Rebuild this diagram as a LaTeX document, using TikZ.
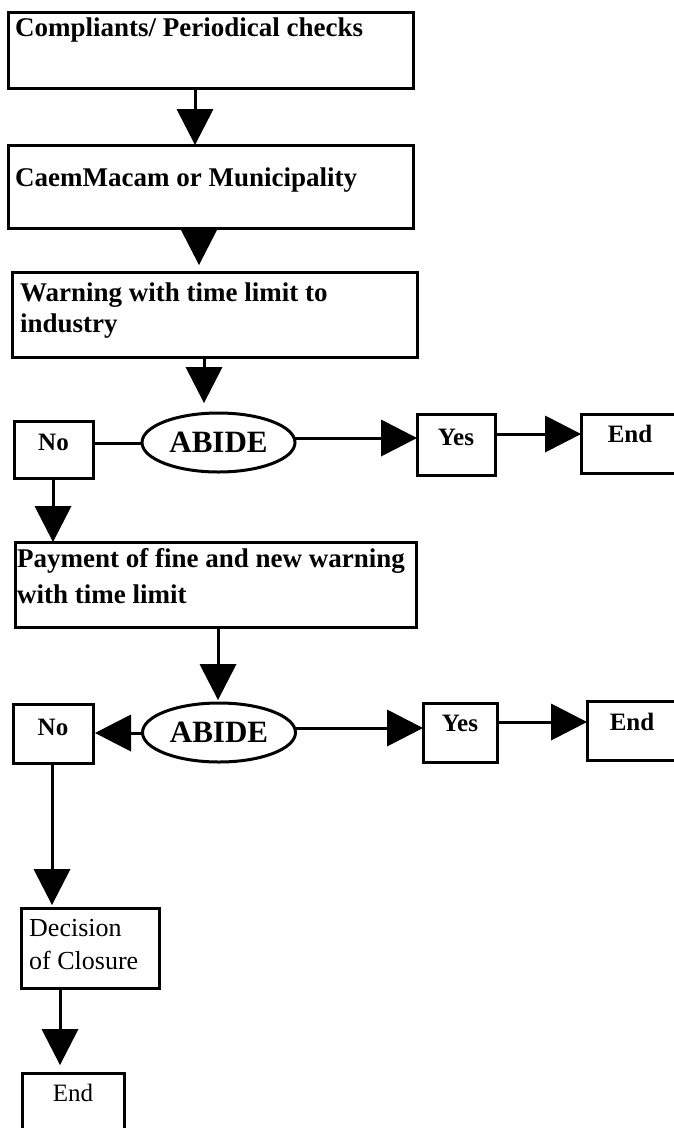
\documentclass[tikz,border=0pt]{standalone}
\usepackage{fontspec}
\setmainfont{Liberation Serif}
\usetikzlibrary{arrows.meta,shapes.geometric}
\begin{document}
\begin{tikzpicture}[x=1pt,y=-1pt,
  box/.style={draw, line width=3pt, rectangle, inner sep=0pt, outer sep=0pt, anchor=north west},
  tag/.style={box, font=\bfseries\fontsize{25}{30}\selectfont, text height=10pt, text depth=#1},
  oval/.style={draw, line width=3pt, ellipse, inner sep=0pt, outer sep=0pt,
    minimum width=153pt, minimum height=59pt, font=\bfseries\fontsize{31}{34}\selectfont},
  lbl/.style={inner sep=0pt, anchor=north west, align=left, font=\bfseries\fontsize{27}{31}\selectfont},
  flow/.style={line width=3pt, -{Triangle[length=36pt,width=37pt,line width=0pt]}},
  link/.style={line width=3pt}]
\useasboundingbox (0,0) rectangle (673,1128);

% main chain of boxes
\node[box, minimum width=405pt, minimum height=76pt] (b1) at (8,12) {};
\node[lbl] (t1) at (15,18) {Compliants/ Periodical checks};
\node[box, minimum width=405pt, minimum height=83pt] (b2) at (8,145) {};
\node[lbl] (t2) at (15,168) {CaemMacam or Municipality};
\node[box, minimum width=405pt, minimum height=85pt] (b3) at (12,272) {};
\node[lbl] (t3) at (20,283) {Warning with time limit to\\industry};

% first decision row
\node[tag=8.4pt, minimum width=79pt, minimum height=57pt] (no1) at (14,421) {No};
\node[oval] (ab1) at (218.5,442.5) {ABIDE};
\node[tag=8.4pt, minimum width=78pt, minimum height=61pt] (yes1) at (417,414) {Yes};
\node[tag=12.4pt, minimum width=98pt, minimum height=59pt] (end1) at (581,414) {End};

\node[box, minimum width=401pt, minimum height=85pt] (pay) at (15,542) {};
\node[lbl, font=\bfseries\fontsize{27}{36}\selectfont] (t4) at (17,548) {Payment of fine and new warning\\with time limit};

% second decision row
\node[tag=6.4pt, minimum width=80pt, minimum height=59pt] (no2) at (13,704) {No};
\node[oval] (ab2) at (219,732.5) {ABIDE};
\node[tag=12.4pt, minimum width=74pt, minimum height=59pt] (yes2) at (423,703) {Yes};
\node[tag=10.4pt, minimum width=90pt, minimum height=59pt] (end2) at (587,701) {End};

% closure branch
\node[box, minimum width=138pt, minimum height=80pt] (dec) at (21,908) {};
\node[lbl, font=\fontsize{26}{33}\selectfont] (t5) at (29,919) {Decision\\of Closure};
\node[tag=20.4pt, font=\fontsize{25}{30}\selectfont, minimum width=102pt, minimum height=67pt] (end3) at (22,1073) {End};

% guide positions for the connectors
\coordinate (x1) at (195,0);
\coordinate (x2) at (199,0);
\coordinate (x3) at (204,0);
\coordinate (x4) at (53,0);
\coordinate (x5) at (218,0);
\coordinate (x6) at (52,0);
\coordinate (x7) at (60,0);
\coordinate (r0) at (0,443);
\coordinate (r1) at (0,438);
\coordinate (r2) at (0,434);
\coordinate (r3) at (0,733);
\coordinate (r4) at (0,728);
\coordinate (r5) at (0,722);

% connectors
\draw[flow] (b1.south -| x1) -- (b2.north -| x1);
\draw[flow, shorten >=7pt] (b2.south -| x2) -- (b3.north -| x2);
\draw[flow, shorten >=10pt] (b3.south -| x3) -- (ab1.north -| x3);
\draw[link] (no1.east |- r0) -- (ab1.west |- r0);
\draw[flow] (ab1.east |- r1) -- (yes1.west |- r1);
\draw[flow] (yes1.east |- r2) -- (end1.west |- r2);
\draw[flow] (no1.south -| x4) -- (pay.north -| x4);
\draw[flow, shorten >=3pt] (pay.south -| x5) -- (ab2.north -| x5);
\draw[flow, shorten >=2pt] (ab2.west |- r3) -- (no2.east |- r3);
\draw[flow] (ab2.east |- r4) -- (yes2.west |- r4);
\draw[flow] (yes2.east |- r5) -- (end2.west |- r5);
\draw[flow, shorten >=3pt] (no2.south -| x6) -- (dec.north -| x6);
\draw[flow, shorten >=8pt] (dec.south -| x7) -- (end3.north -| x7);
\end{tikzpicture}
\end{document}
